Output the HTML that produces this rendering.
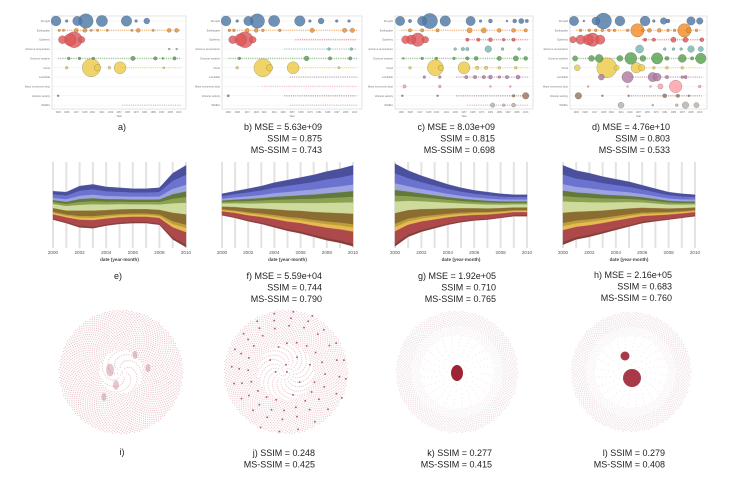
<!DOCTYPE html>
<html><head><meta charset="utf-8">
<style>
html,body{margin:0;padding:0;background:#fff;}
svg{display:block;}
text{font-family:"Liberation Sans",sans-serif;}
</style></head>
<body>
<svg id="fig" width="731" height="482" viewBox="0 0 731 482" xmlns="http://www.w3.org/2000/svg"></svg>
<script>
// ---------- DATA ----------
const rowLabels=["Drought","Earthquake","Epidemic","Extreme temperature","Extreme weather","Flood","Landslide","Mass movement (dry)","Volcanic activity","Wildfire"];
const rowColors=["#4e79a7","#f28e2b","#e15759","#76b7b2","#59a14f","#edc948","#b07aa1","#ff9da7","#9c755f","#bab0ac"];
const yearTicks=[1900,1908,1917,1925,1932,1941,1949,1957,1965,1973,1981,1989,1997,2005,2013];
// bubbles: [row, year, value]
const bubblesA=[[0,1898,25],[0,1908,2],[0,1918,22],[0,1926,53],[0,1941,32],[0,1964,28],[0,1973,2],[0,1983,9],
[1,1901,1.5],[1,1905,1.5],[1,1917,4],[1,1925,4],[1,1931,1.5],[1,1937,1.5],[1,1946,1.5],[1,1969,1.5],[1,1975,4],[1,1989,1.5],[1,2004,4],[1,2011,4],
[2,1904,16],[2,1911,36],[2,1915,64],[2,1922,11],
[3,2004,1],[3,2011,1],
[4,1910,2],[4,1920,2],[4,1933,2],[4,1970,5],[4,1991,3],[4,1998,1],[4,2009,3],
[5,1908,2],[5,1931,81],[5,1937,11],[5,1948,2],[5,1958,36],[5,1999,1],
[8,1900,1]];
const bubblesB=[[0,1898,25],[0,1908,2],[0,1918,22],[0,1926,53],[0,1941,32],[0,1964,28],[0,1973,2],[0,1983,9],[0,1997,2],[0,2008,2],
[1,1901,2],[1,1905,2],[1,1917,4],[1,1925,4],[1,1931,2],[1,1946,2],[1,1975,5],[1,2004,5],[1,2011,5],
[2,1904,16],[2,1911,36],[2,1915,64],[2,1922,11],
[3,1990,2],[3,2010,2],
[4,1910,2],[4,1970,6],[4,1991,3],[4,2009,3],
[5,1908,2],[5,1931,81],[5,1937,11],[5,1958,36],[5,1999,1.5],
[8,1900,1.5]];
const bubblesC=[[0,1899,22],[0,1908,3],[0,1919,22],[0,1926,59],[0,1940,28],[0,1963,22],[0,1972,2],[0,1981,4],[0,1996,1],[0,2003,4],[0,2009,7],[0,2014,3],
[1,1908,3],[1,1919,3],[1,1933,3],[1,1962,7],[1,1975,7],[1,1989,4],[1,2002,4],[1,2013,3],
[2,1904,16],[2,1909,22],[2,1915,45],[2,1922,11],[2,1960,3],[2,1970,3],[2,1981,4],[2,1993,2],[2,2002,3],
[3,1949,2],[3,1956,3],[3,1960,3],[3,1979,11],[3,1992,2],[3,2007,2],
[4,1902,1],[4,1919,2],[4,1932,2],[4,1948,2],[4,1960,3],[4,1968,4],[4,1989,5],[4,2004,7],[4,2013,4],
[5,1908,2],[5,1931,64],[5,1936,7],[5,1957,36],[5,1969,3],[5,1977,3],[5,1989,2],[5,2004,2],
[6,1921,2],[6,1935,2],[6,1959,3],[6,1967,3],[6,1975,3],[6,1981,4],[6,1989,2],[6,1996,3],[6,2006,4],
[7,1903,3],[7,1935,2],[7,1981,1],[7,1999,1],
[8,1901,1],[8,1933,1],[8,2002,2],[8,2013,11],
[9,1983,5],[9,1993,2],[9,2002,4]];
const bubblesD=[[0,1898,22],[0,1907,1],[0,1918,16],[0,1925,64],[0,1940,25],[0,1963,25],[0,1971,2],[0,1980,11],[0,1984,4],[0,2005,18],[0,2013,11],
[1,1904,2],[1,1912,2],[1,1918,2],[1,1924,2],[1,1930,2],[1,1935,2],[1,1947,2],[1,1956,45],[1,1961,2],[1,1967,4],[1,1976,4],[1,1984,2],[1,1990,2],[1,1999,45],[1,2003,7],[1,2010,2],
[2,1897,11],[2,1904,22],[2,1911,28],[2,1915,45],[2,1922,22],[2,1963,3],[2,1971,3],[2,1989,7],[2,2000,7],[2,2015,4],
[3,1958,16],[3,1981,2],[3,1989,2],[3,1996,2],[3,2005,11],[3,2014,7],
[4,1899,7],[4,1914,9],[4,1921,16],[4,1940,9],[4,1950,36],[4,1961,9],[4,1974,32],[4,1983,4],[4,1997,16],[4,2006,3],[4,2014,28],
[5,1901,9],[5,1928,100],[5,1937,7],[5,1955,28],[5,1960,11],[5,1971,2],[5,1983,2],[5,1997,2],
[6,1923,9],[6,1947,32],[6,1970,22],[6,1974,16],[6,1983,3],[6,1997,2],[6,2000,3],
[7,1911,1],[7,1947,1],[7,1968,1],[7,1977,7],[7,1991,40],[7,2013,2],
[8,1902,11],[8,1924,1],[8,1948,1],[8,1981,4],[8,1993,3],[8,2003,1],
[9,1941,9],[9,1970,1],[9,1992,2],[9,2000,11],[9,2010,7]];
// streaks of tiny points: [row, startYear, endYear]
const streaksA=[[1,1900,2015],[4,1900,2015],[5,1960,2015],[9,1960,2015]];
const streaksB=[[1,1900,2015],[2,1960,2015],[3,1950,2015],[4,1900,2015],[5,1960,2015],[6,1955,2015],[7,1930,2015],[8,1950,2015],[9,1955,2015]];
const streaksC=[[1,1900,2015],[2,1960,2015],[4,1900,2015],[5,1960,2015],[6,1950,2015],[8,1950,2015],[9,1960,2015]];
const streaksD=[[1,1900,2015],[2,1960,2015],[4,1900,2015],[5,1960,2015],[6,1950,2015],[8,1950,2015]];

// streamgraph
const streamYears=[2000,2001,2002,2003,2004,2005,2006,2007,2008,2009,2010];
const streamTicks=[2000,2002,2004,2006,2008,2010];
const layerColors=["#4a4f9e","#6b72cf","#9ca3e0","#637939","#8ca252","#cedb9c","#8c6d31","#bd9e39","#e7ba52","#ad494a","#843c39"];
const layerShares=[12,12,8,7,7,14,13,4,5,15,3];
const topE=[66,65,72,74,71,70,69,69,70,87,96];
const botE=[33,29,24,23,26,28,29,29,27,10,1];
const topF=[63,66,69,72,76,79,82,85,89,92,96];
const botF=[38,35,31,28,24,20,17,13,9,6,2];
const topG=[98,90,84,79,74,70,67,65,63,62,62];
const botG=[2,13,19,23,27,30,32,33,35,37,37];
const topH=[96,90,87,83,80,77,73,69,65,63,62];
const botH=[4,10,13,17,21,25,29,31,33,35,37];

// ---------- HELPERS ----------
const NS="http://www.w3.org/2000/svg";
const svg=document.getElementById('fig');
function mk(tag,attrs,parent){const e=document.createElementNS(NS,tag);for(const k in attrs)e.setAttribute(k,attrs[k]);(parent||svg).appendChild(e);return e;}
function txt(x,y,s,size,anchor,parent,extra){const t=mk('text',Object.assign({x:x,y:y,'font-size':size,'text-anchor':anchor||'start',fill:'#222'},extra||{}),parent);t.textContent=s;return t;}

// ---------- BUBBLE PANELS ----------
function bubblePanel(name,x0,x1,bubbles,streaks){
  const g=mk('g',{});
  
  
  const y0=16,y1=109;
  const xs=y=>x0+4+(y-1898)/(2016-1898)*(x1-x0-8);
  const ys=r=>21+r*9.35;
  const fr=mk('rect',{x:x0,y:y0,width:x1-x0,height:y1-y0,fill:'none',stroke:'#ddd','stroke-width':0.8},g);
  
  
  rowLabels.forEach((l,i)=>{
    const ln=mk('line',{x1:x0,x2:x1,y1:ys(i),y2:ys(i),stroke:'#eee','stroke-width':0.5},g);
    
    
    const t=txt(x0-2,ys(i)+1,l,2.6,'end',g,{fill:'#777'});
    
    
  });
  streaks.forEach(s=>{
    const l=mk('line',{x1:xs(s[1]),x2:xs(s[2]),y1:ys(s[0]),y2:ys(s[0]),stroke:rowColors[s[0]],'stroke-width':1.6,'stroke-dasharray':'1 1.2',opacity:0.55},g);
    
    
  });
  const sorted=bubbles.slice().sort((a,b)=>b[2]-a[2]);
  sorted.forEach(b=>{
    const c=mk('circle',{cx:xs(b[1]),cy:ys(b[0]),r:Math.sqrt(b[2]),fill:rowColors[b[0]],'fill-opacity':0.82,stroke:'#444','stroke-opacity':0.5,'stroke-width':0.4},g);
    
    
  });
  yearTicks.forEach(y=>{
    const t=txt(xs(y),y1+4,String(y),2.4,'middle',g,{fill:'#777'});
    
    
  });
  const yl=txt((x0+x1)/2,y1+8,'Year',2.6,'middle',g,{fill:'#666'});
  
  
}
bubblePanel('bubble-chart-a',52,186,bubblesA,streaksA);
bubblePanel('bubble-chart-b',222,362,bubblesB,streaksB);
bubblePanel('bubble-chart-c',395,533,bubblesC,streaksC);
bubblePanel('bubble-chart-d',570,707,bubblesD,streaksD);

// ---------- STREAM PANELS ----------
function streamPanel(name,x0,x1,tops,bots){
  const g=mk('g',{});
  
  
  const y0=162,y1=248;
  const xs=y=>x0+(y-2000)/10*(x1-x0);
  const ys=v=>y1-v/100*(y1-y0);
  for(let yr=2000;yr<=2010;yr++){
    const r=mk('rect',{x:xs(yr)-1,y:y0,width:2,height:y1-y0,fill:'#e3e3e3'},g);
    
    
  }
  const total=layerShares.reduce((a,b)=>a+b,0);
  let cum=0;
  layerShares.forEach((s,li)=>{
    const fa=cum/total, fb=(cum+s)/total; cum+=s;
    let up=[],dn=[];
    streamYears.forEach((yr,i)=>{
      const t=tops[i],b=bots[i];
      up.push(xs(yr).toFixed(1)+','+ys(t-(t-b)*fa).toFixed(1));
      dn.unshift(xs(yr).toFixed(1)+','+ys(t-(t-b)*fb).toFixed(1));
    });
    const p=mk('path',{d:'M'+up.join('L')+'L'+dn.join('L')+'Z',fill:layerColors[li],stroke:layerColors[li],'stroke-width':0.3},g);
    
    
  });
  streamTicks.forEach(y=>{
    const t=txt(xs(y),y1+6,String(y),4.6,'middle',g,{fill:'#555'});
    
    
  });
  const xl=txt((x0+x1)/2,y1+13,'date (year-month)',4.6,'middle',g,{fill:'#444','font-weight':'bold'});
  
  
}
streamPanel('streamgraph-e',53,186,topE,botE);
streamPanel('streamgraph-f',222,353,topF,botF);
streamPanel('streamgraph-g',395,527,topG,botG);
streamPanel('streamgraph-h',563,695,topH,botH);

// ---------- NETWORK PANELS ----------
function network(name,cx,cy,R,mode){
  const g=mk('g',{});
  
  
  const n=2600;
  for(let i=0;i<n;i++){
    const f=Math.sqrt((i+0.5)/n), a=i*2.3999632;
    let op=0.4, rr=0.6, col='#c46a76';
    if(mode==='i'){ if(f<0.35 && i%3) continue; }
    if(mode==='j'){ if(f<0.45 && i%2) continue; op=0.36; if(((i*7919)%97)<3){op=0.75;rr=1.0;col='#9a3040';} }
    if(mode==='ring'){ if(f<0.6 && i%6) continue; op=f>0.75?0.22:0.12; rr=0.7; col='#b07080'; }
    const c=mk('circle',{cx:(cx+Math.cos(a)*f*R).toFixed(1),cy:(cy+Math.sin(a)*f*R).toFixed(1),r:rr,fill:col,'fill-opacity':op},g);
    
    
  }
  return g;
}
const gi=network('network-i',121,372,62,'i');
[[110,370,4],[116,385,3],[135,355,2.5],[148,368,2.5],[104,397,2.5]].forEach(p=>{
  const c=mk('ellipse',{cx:p[0],cy:p[1],rx:p[2],ry:p[2]*1.6,fill:'#a84a58','fill-opacity':0.3},gi);
  
  
});
network('network-j',286,372,62,'j');
const gk=network('network-k',457,372,61,'ring');
const bk=mk('ellipse',{cx:457,cy:373,rx:6,ry:8,fill:'#9e2335'},gk);


const gl=network('network-l',631,372,60,'ring');
[[625,356,4.5],[632,378,9]].forEach(p=>{
  const c=mk('circle',{cx:p[0],cy:p[1],r:p[2],fill:'#9e2335','fill-opacity':0.9},gl);
  
  
});

// ---------- CAPTIONS ----------
function caption(name,x,y,lines,anchor){
  const g=mk('g',{});
  
  
  lines.forEach((l,i)=>{txt(x,y+i*11.5,l,9,anchor,g);});
}
caption('caption-a',122,130,['a)'],'middle');
caption('caption-b',322,130,['b) MSE = 5.63e+09','SSIM = 0.875','MS-SSIM = 0.743'],'end');
caption('caption-c',495,130,['c) MSE = 8.03e+09','SSIM = 0.815','MS-SSIM = 0.698'],'end');
caption('caption-d',670,130,['d) MSE = 4.76e+10','SSIM = 0.803','MS-SSIM = 0.533'],'end');
caption('caption-e',118,279,['e)'],'middle');
caption('caption-f',322,279,['f) MSE = 5.59e+04','SSIM = 0.744','MS-SSIM = 0.790'],'end');
caption('caption-g',496,279,['g) MSE = 1.92e+05','SSIM = 0.710','MS-SSIM = 0.765'],'end');
caption('caption-h',672,278,['h) MSE = 2.16e+05','SSIM = 0.683','MS-SSIM = 0.760'],'end');
caption('caption-i',122,455,['i)'],'middle');
caption('caption-j',315,456,['j) SSIM = 0.248','MS-SSIM = 0.425'],'end');
caption('caption-k',492,456,['k) SSIM = 0.277','MS-SSIM = 0.415'],'end');
caption('caption-l',665,456,['l) SSIM = 0.279','MS-SSIM = 0.408'],'end');
</script>
</body></html>
